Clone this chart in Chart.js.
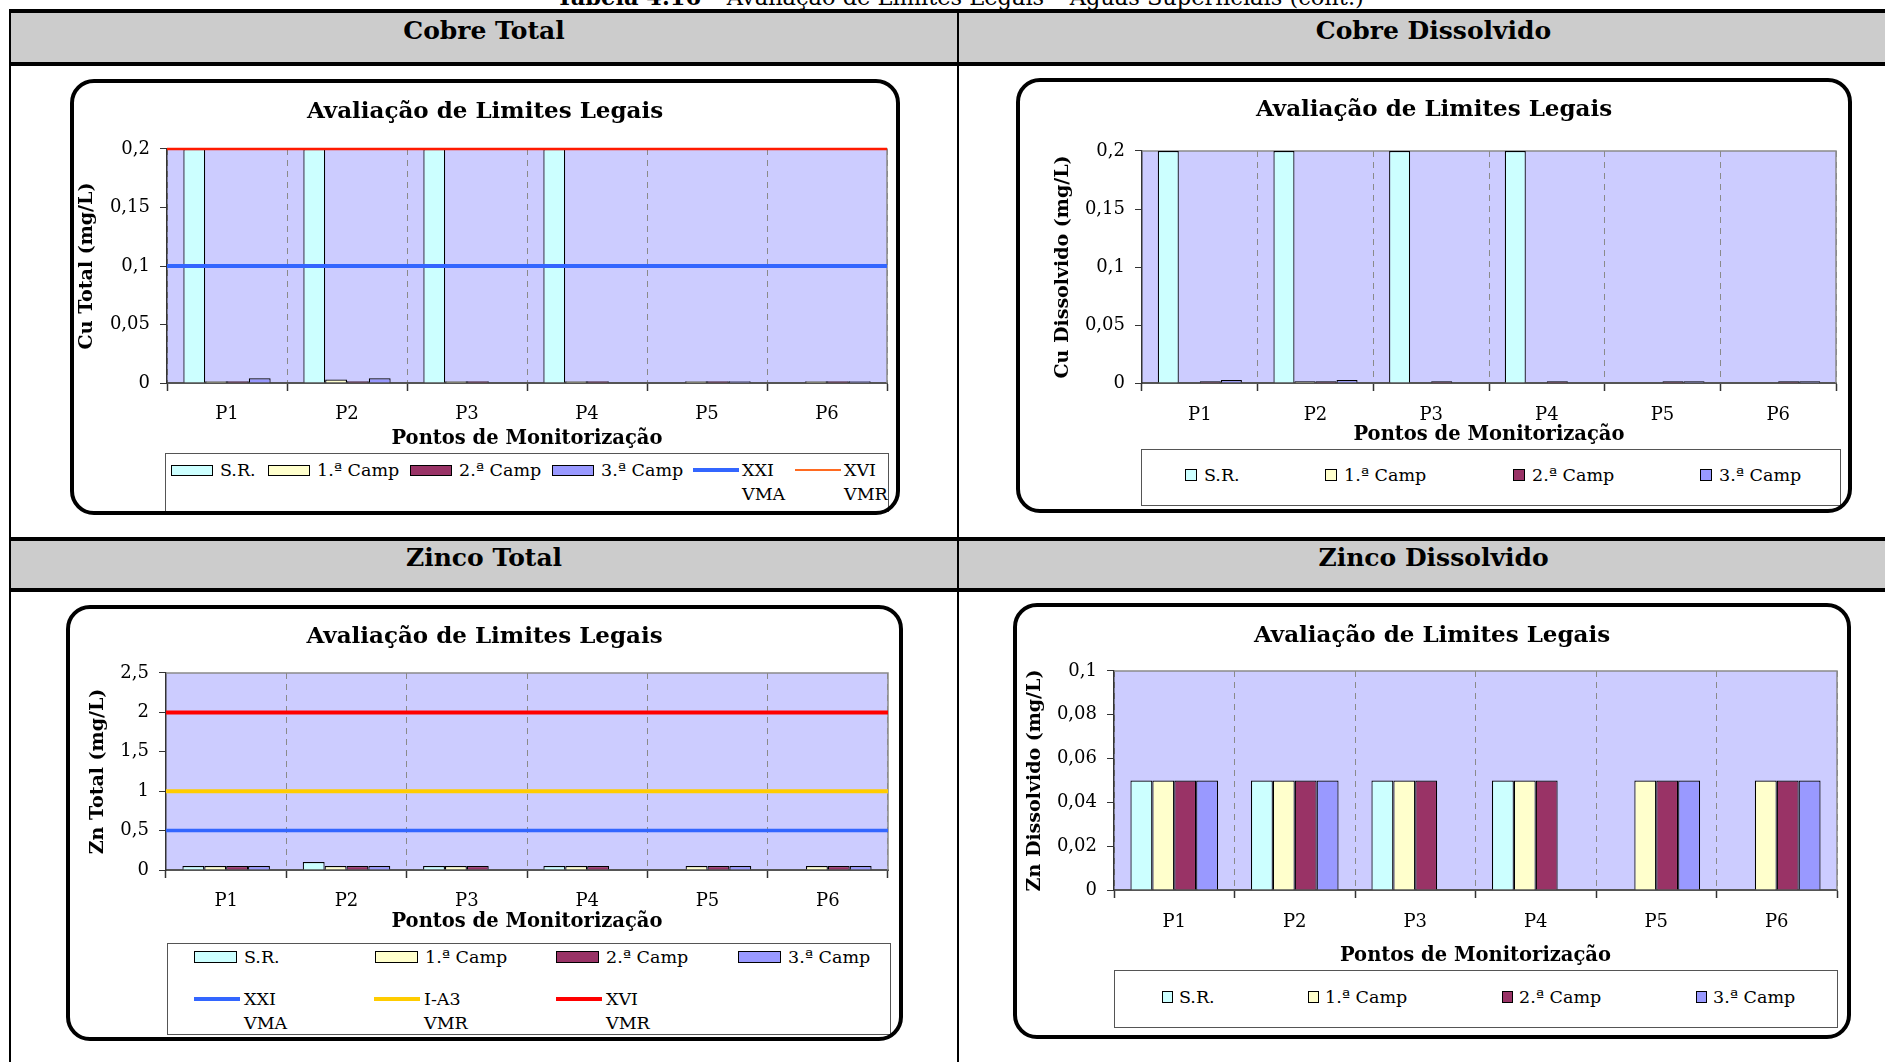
<!DOCTYPE html>
<html lang="pt">
<head>
<meta charset="utf-8">
<title>Avaliação de Limites Legais – Águas Superficiais</title>
<script src="https://cdn.jsdelivr.net/npm/chart.js@4.4.1/dist/chart.umd.min.js"></script>
<style>
  html, body { margin: 0; padding: 0; }
  body { width: 1885px; height: 1062px; overflow: hidden; position: relative; background: #fff;
         font-family: 'DejaVu Serif', serif; color: #000; }
  .abs { position: absolute; }
  .rule { position: absolute; background: #000; }
  .head { position: absolute; background: #cccccc; }
  .head span { position: absolute; left: 0; right: 0; text-align: center; font-weight: bold; font-size: 25px; }
  .box { position: absolute; border: 4px solid #000; border-radius: 24px; box-sizing: border-box; pointer-events: none; }
  .legend { position: absolute; border: 1px solid #555; box-sizing: border-box; background: #fff; }
  .item { position: absolute; display: flex; align-items: flex-start; font-size: 17.5px; line-height: 24px; white-space: nowrap; }
  .sw { box-sizing: border-box; border: 1.5px solid #000; }
</style>
</head>
<body>

<div class="abs" style="left:0;width:1920px;top:-16px;text-align:center;font-size:22.5px;line-height:26px"><b>Tabela 4.16</b> – Avaliação de Limites Legais – Águas Superficiais (cont.)</div>

<div class="head" style="left:11px;top:13px;width:946px;height:49px"><span style="top:0;line-height:36px">Cobre Total</span></div>
<div class="head" style="left:959px;top:13px;width:949px;height:49px"><span style="top:0;line-height:36px">Cobre Dissolvido</span></div>
<div class="head" style="left:11px;top:541px;width:946px;height:47px"><span style="top:0;line-height:34px">Zinco Total</span></div>
<div class="head" style="left:959px;top:541px;width:949px;height:47px"><span style="top:0;line-height:34px">Zinco Dissolvido</span></div>

<div class="rule" style="left:9px;top:9px;width:1876px;height:4px"></div>
<div class="rule" style="left:9px;top:62px;width:1876px;height:4px"></div>
<div class="rule" style="left:9px;top:537px;width:1876px;height:4px"></div>
<div class="rule" style="left:9px;top:588px;width:1876px;height:4px"></div>
<div class="rule" style="left:9px;top:9px;width:2px;height:1053px"></div>
<div class="rule" style="left:957px;top:9px;width:2px;height:1053px"></div>

<div id="stage"></div>

<script>
// categories and series
const categories = ['P1', 'P2', 'P3', 'P4', 'P5', 'P6'];
const seriesNames = ['S.R.', '1.ª Camp', '2.ª Camp', '3.ª Camp'];
const seriesColors = ['#ccffff', '#ffffcc', '#993366', '#9999ff'];

// Cobre Total (mg/L)
const cuTotalSR = [0.2, 0.2, 0.2, 0.2, null, null];
const cuTotal1 = [0.0015, 0.003, 0.0015, 0.0015, 0.0015, 0.0015];
const cuTotal2 = [0.0015, 0.0015, 0.0015, 0.0015, 0.0015, 0.0015];
const cuTotal3 = [0.004, 0.004, null, null, 0.0015, 0.0015];
const cuTotalTicks = [0, 0.05, 0.1, 0.15, 0.2];

// Cobre Dissolvido (mg/L)
const cuDissSR = [0.2, 0.2, 0.2, 0.2, null, null];
const cuDiss1 = [null, 0.0015, null, null, null, null];
const cuDiss2 = [0.0015, 0.0015, 0.0015, 0.0015, 0.0015, 0.0015];
const cuDiss3 = [0.0025, 0.0025, null, null, 0.0015, 0.0015];
const cuDissTicks = [0, 0.05, 0.1, 0.15, 0.2];

// Zinco Total (mg/L)
const znTotalSR = [0.05, 0.1, 0.05, 0.05, null, null];
const znTotal1 = [0.05, 0.05, 0.05, 0.05, 0.05, 0.05];
const znTotal2 = [0.05, 0.05, 0.05, 0.05, 0.05, 0.05];
const znTotal3 = [0.05, 0.05, null, null, 0.05, 0.05];
const znTotalTicks = [0, 0.5, 1, 1.5, 2, 2.5];

// Zinco Dissolvido (mg/L)
const znDissSR = [0.05, 0.05, 0.05, 0.05, null, null];
const znDiss1 = [0.05, 0.05, 0.05, 0.05, 0.05, 0.05];
const znDiss2 = [0.05, 0.05, 0.05, 0.05, 0.05, 0.05];
const znDiss3 = [0.05, 0.05, null, null, 0.05, 0.05];
const znDissTicks = [0, 0.02, 0.04, 0.06, 0.08, 0.1];

// legal limits
const cuLimitNames = [['XXI', 'VMA'], ['XVI', 'VMR']];
const cuLimitValues = [0.1, 0.2];
const znLimitNames = [['XXI', 'VMA'], ['I-A3', 'VMR'], ['XVI', 'VMR']];
const znLimitValues = [0.5, 1, 2];

const SERIF = "'DejaVu Serif', serif";

const charts = [
  {
    id: 'cuTotal', yTitle: 'Cu Total (mg/L)', ticks: cuTotalTicks,
    series: [cuTotalSR, cuTotal1, cuTotal2, cuTotal3],
    limitNames: cuLimitNames, limitValues: cuLimitValues,
    limitStyle: [{color: '#3366ff', width: 4, legendColor: '#3366ff', legendWidth: 4},
                 {color: '#ff1a00', width: 2.5, legendColor: '#ff6a20', legendWidth: 2}],
    box: {x: 70, y: 79, w: 830, h: 436}, plot: {l: 167, t: 149, r: 887, b: 383},
    text: {title: 112, yTitle: 87, xTick: 414, xTitle: 439},
    legend: {rect: [165, 453, 724, 59], sw: [42, 11], gap: 7,
             barY: 470, barX: [171, 268, 410, 552], lineY: 470, lineX: [693, 795], lineW: 46, lineGap: 3}
  },
  {
    id: 'cuDiss', yTitle: 'Cu Dissolvido (mg/L)', ticks: cuDissTicks,
    series: [cuDissSR, cuDiss1, cuDiss2, cuDiss3],
    limitNames: [], limitValues: [], limitStyle: [],
    box: {x: 1016, y: 78, w: 836, h: 435}, plot: {l: 1142, t: 151, r: 1836, b: 383},
    text: {title: 110, yTitle: 1063, xTick: 415, xTitle: 435},
    legend: {rect: [1141, 449, 700, 57], sw: [12, 12], gap: 7,
             barY: 475, barX: [1185, 1325, 1513, 1700]}
  },
  {
    id: 'znTotal', yTitle: 'Zn Total (mg/L)', ticks: znTotalTicks,
    series: [znTotalSR, znTotal1, znTotal2, znTotal3],
    limitNames: znLimitNames, limitValues: znLimitValues,
    limitStyle: [{color: '#3366ff', width: 3.5, legendColor: '#3366ff', legendWidth: 4},
                 {color: '#ffcc00', width: 4, legendColor: '#ffcc00', legendWidth: 4},
                 {color: '#ff0000', width: 4, legendColor: '#ff0000', legendWidth: 4}],
    box: {x: 66, y: 605, w: 837, h: 436}, plot: {l: 166, t: 673, r: 888, b: 870},
    text: {title: 637.5, yTitle: 98, xTick: 901, xTitle: 922},
    legend: {rect: [167, 943, 724, 92], sw: [43, 12], gap: 7,
             barY: 956.5, barX: [194, 375, 556, 738], lineY: 999, lineX: [194, 374, 556], lineW: 46, lineGap: 4}
  },
  {
    id: 'znDiss', yTitle: 'Zn Dissolvido (mg/L)', ticks: znDissTicks,
    series: [znDissSR, znDiss1, znDiss2, znDiss3],
    limitNames: [], limitValues: [], limitStyle: [],
    box: {x: 1013, y: 603, w: 838, h: 436}, plot: {l: 1114, t: 671, r: 1837, b: 890},
    text: {title: 636, yTitle: 1035, xTick: 922, xTitle: 956},
    legend: {rect: [1114, 970, 724, 58], sw: [11, 12], gap: 6,
             barY: 997, barX: [1162, 1308, 1502, 1696]}
  }
];

const plotFrame = {
  id: 'plotFrame',
  beforeDraw(chart) {
    const a = chart.chartArea, c = chart.ctx;
    c.save();
    c.fillStyle = '#ccccff';
    c.fillRect(a.left, a.top, a.right - a.left, a.bottom - a.top);
    c.restore();
  },
  beforeDatasetsDraw(chart) {
    const a = chart.chartArea, c = chart.ctx;
    c.save();
    c.strokeStyle = '#8a8a8a';
    c.lineWidth = 1.5;
    c.beginPath();
    c.moveTo(a.left, a.top);
    c.lineTo(a.right, a.top);
    c.lineTo(a.right, a.bottom);
    c.stroke();
    c.restore();
  }
};

// legal limit lines, placed with the chart's own y scale
const limitLines = {
  id: 'limitLines',
  afterDatasetsDraw(chart, args, opts) {
    if (!opts.values) return;
    const a = chart.chartArea, c = chart.ctx, y = chart.scales.y;
    opts.values.forEach((v, i) => {
      const py = y.getPixelForValue(v);
      c.save();
      c.strokeStyle = opts.styles[i].color;
      c.lineWidth = opts.styles[i].width;
      c.beginPath();
      c.moveTo(a.left, py);
      c.lineTo(a.right, py);
      c.stroke();
      c.restore();
    });
  }
};

function fmt(v) {
  return String(v).replace('.', ',');
}

const stage = document.getElementById('stage');

function addLegend(cfg) {
  const lg = cfg.legend;
  const box = document.createElement('div');
  box.className = 'legend';
  box.style.cssText = `left:${lg.rect[0]}px;top:${lg.rect[1]}px;width:${lg.rect[2]}px;height:${lg.rect[3]}px`;
  stage.appendChild(box);

  const put = (x, y, swatch, lines, gap) => {
    const it = document.createElement('div');
    it.className = 'item';
    it.style.left = x + 'px';
    it.style.top = (y - 12) + 'px';
    it.appendChild(swatch);
    const t = document.createElement('div');
    t.style.marginLeft = gap + 'px';
    t.innerHTML = lines.join('<br>');
    it.appendChild(t);
    stage.appendChild(it);
  };

  seriesNames.forEach((name, i) => {
    const s = document.createElement('div');
    s.className = 'sw';
    s.style.cssText = `width:${lg.sw[0]}px;height:${lg.sw[1]}px;margin-top:${(24 - lg.sw[1]) / 2}px;background:${seriesColors[i]}`;
    put(lg.barX[i], lg.barY, s, [name], lg.gap);
  });
  cfg.limitNames.forEach((name, i) => {
    const st = cfg.limitStyle[i];
    const s = document.createElement('div');
    s.style.cssText = `width:${lg.lineW}px;height:${st.legendWidth}px;margin-top:${(24 - st.legendWidth) / 2}px;background:${st.legendColor}`;
    put(lg.lineX[i], lg.lineY, s, name, lg.lineGap);
  });
}

function buildChart(cfg) {
  const {box, plot, text} = cfg;
  const side = box.x + box.w - plot.r;

  const canvas = document.createElement('canvas');
  canvas.width = box.w;
  canvas.height = box.h;
  canvas.className = 'abs';
  canvas.style.left = box.x + 'px';
  canvas.style.top = box.y + 'px';
  stage.appendChild(canvas);

  const frame = document.createElement('div');
  frame.className = 'box';
  frame.style.cssText = `left:${box.x}px;top:${box.y}px;width:${box.w}px;height:${box.h}px`;

  const datasets = cfg.series.map((vals, i) => ({
    label: seriesNames[i], data: vals,
    backgroundColor: seriesColors[i], borderColor: '#000', borderWidth: 1.2,
    categoryPercentage: 4 / 5.5, barPercentage: 1
  }));

  const titleTop = text.title - box.y - 13.8;
  const titleBottom = (plot.t - box.y) - titleTop - 27.6;

  new Chart(canvas, {
    type: 'bar',
    data: {labels: categories, datasets},
    options: {
      responsive: false,
      animation: false,
      devicePixelRatio: 1,
      events: [],
      layout: {padding: {left: side, right: side, top: 0, bottom: 0}},
      plugins: {
        legend: {display: false},
        tooltip: {enabled: false},
        title: {
          display: true, text: 'Avaliação de Limites Legais', color: '#000',
          font: {family: SERIF, size: 23, weight: 'bold'},
          padding: {top: titleTop, bottom: titleBottom}
        },
        limitLines: {values: cfg.limitValues, styles: cfg.limitStyle}
      },
      scales: {
        x: {
          type: 'category', offset: true,
          grid: {offset: true, color: '#8a8a8a', lineWidth: 1, drawOnChartArea: true,
                 drawTicks: true, tickLength: 8, tickColor: '#333', tickWidth: 1.5},
          border: {display: true, color: '#555', width: 2, dash: [6, 5]},
          ticks: {color: '#000', font: {family: SERIF, size: 18}, maxRotation: 0,
                  padding: text.xTick - plot.b - 8 - 10.8},
          title: {display: true, text: 'Pontos de Monitorização', color: '#000',
                  font: {family: SERIF, size: 19.5, weight: 'bold'},
                  padding: {top: 0, bottom: box.y + box.h - text.xTitle - 11.7}},
          afterFit: s => { s.height = box.y + box.h - plot.b; }
        },
        y: {
          type: 'linear', min: cfg.ticks[0], max: cfg.ticks[cfg.ticks.length - 1],
          afterBuildTicks: s => { s.ticks = cfg.ticks.map(v => ({value: v})); },
          grid: {drawOnChartArea: false, drawTicks: true, tickLength: 7, tickColor: '#333', lineWidth: 1},
          border: {display: true, color: '#333', width: 1.5},
          ticks: {color: '#000', font: {family: SERIF, size: 18}, padding: 10, callback: v => fmt(v)},
          title: {display: true, text: cfg.yTitle, color: '#000',
                  font: {family: SERIF, size: 19, weight: 'bold'},
                  padding: {top: text.yTitle - box.x - side - 11.4, bottom: 0}},
          afterFit: s => { s.width = plot.l - box.x - side; }
        }
      }
    },
    plugins: [plotFrame, limitLines]
  });

  addLegend(cfg);
  stage.appendChild(frame);
}

charts.forEach(buildChart);
</script>
</body>
</html>
